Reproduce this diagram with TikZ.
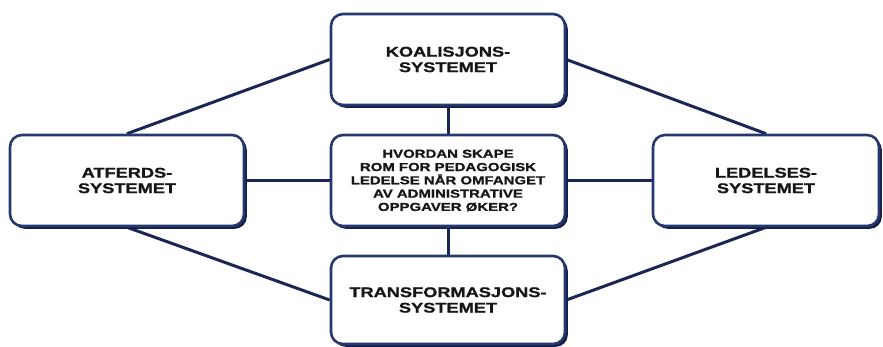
\documentclass[tikz,border=0pt]{standalone}
\usepackage{fontspec}
\setmainfont{Liberation Sans}[FakeStretch=1.3, BoldFeatures={FakeBold=1.2}]
\usetikzlibrary{shadows,backgrounds}
\definecolor{boxnavy}{RGB}{38,56,112}
\definecolor{shadenavy}{RGB}{20,30,70}
\definecolor{linknavy}{RGB}{26,38,84}
\definecolor{inkdark}{RGB}{22,22,22}
\begin{document}
\begin{tikzpicture}[x=1pt,y=-1pt,
  sysbox/.style={draw=boxnavy, line width=2.6pt, fill=white,
    rounded corners=12pt, inner sep=0pt, align=center,
    minimum width=234pt, minimum height=91pt,
    text=inkdark, font=\fontsize{14}{15.5}\selectfont\bfseries,
    drop shadow={shadow xshift=2.8pt, shadow yshift=-2.8pt,
      fill=shadenavy, opacity=1}},
  questionbox/.style={sysbox, font=\fontsize{11.5}{13.3}\selectfont\bfseries},
  link/.style={draw=linknavy, line width=3pt}]
  \useasboundingbox (0,0) rectangle (883,347);

  % the five systems
  \node[sysbox] (koal) at (448,59.5) {KOALISJONS-\\SYSTEMET};
  \node[sysbox] (atf) at (127,180.5) {ATFERDS-\\SYSTEMET};
  \node[questionbox] (q) at (448,180.5)
    {HVORDAN SKAPE\\ROM FOR PEDAGOGISK\\LEDELSE NÅR OMFANGET\\AV ADMINISTRATIVE\\OPPGAVER ØKER?};
  \node[sysbox, minimum width=226pt] (led) at (766,180.5) {LEDELSES-\\SYSTEMET};
  \node[sysbox, minimum height=88pt] (trans) at (448,300) {TRANSFORMASJONS-\\SYSTEMET};

  % connectors behind the boxes
  \begin{scope}[on background layer]
    \draw[link] (koal.south) -- (q.north);
    \draw[link] (q.south) -- (trans.north);
    \draw[link] (atf.east) -- (q.west);
    \draw[link] (q.east) -- (led.west);
    \draw[link] (koal.west) -- (atf.north);
    \draw[link] (koal.east) -- (led.north);
    \draw[link] (atf.south) -- (trans.west);
    \draw[link] (led.south) -- (trans.east);
  \end{scope}
\end{tikzpicture}
\end{document}
